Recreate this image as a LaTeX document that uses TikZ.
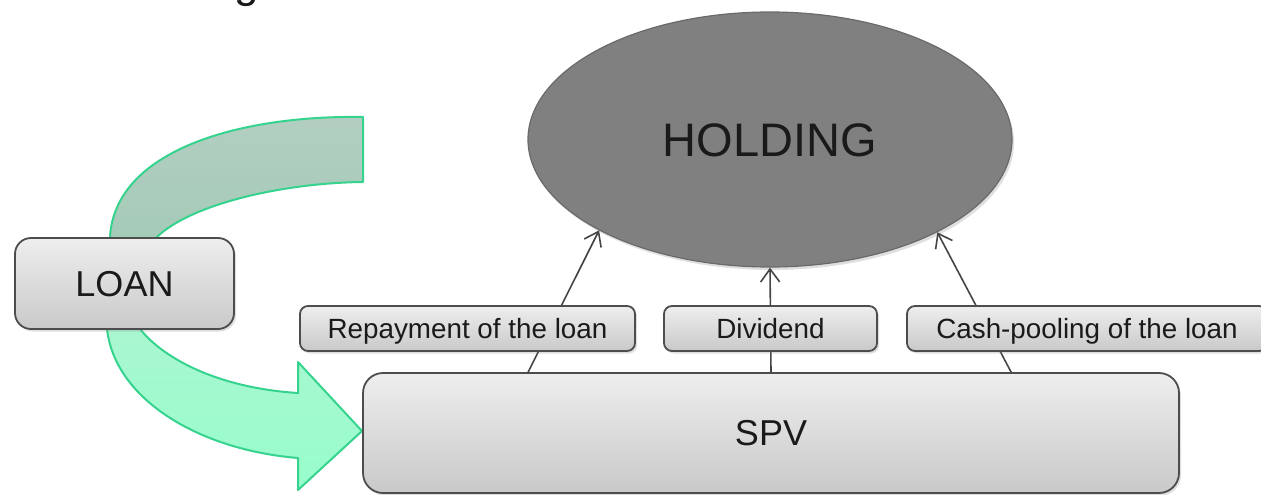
\documentclass[tikz,border=0pt]{standalone}
\usepackage{fontspec}
\setmainfont{Liberation Sans}
\usetikzlibrary{shapes.geometric,arrows.meta,shadows,calc}
\definecolor{txt}{HTML}{1A1A1A}
\definecolor{boxline}{HTML}{4D4D4D}
\definecolor{boxtop}{HTML}{EEEEEE}
\definecolor{boxbot}{HTML}{C9C9C9}
\definecolor{holdfill}{HTML}{808080}
\definecolor{holdline}{HTML}{6A6A6A}
\definecolor{connline}{HTML}{454545}
\definecolor{greenline}{HTML}{35D38E}
\definecolor{upgtop}{HTML}{B4CFC2}
\definecolor{upgbot}{HTML}{A0C9B5}
\definecolor{lowgtop}{HTML}{AEF5D3}
\definecolor{lowgbot}{HTML}{97FDCA}
\tikzset{
  greybox/.style={draw=boxline, line width=1.8pt, top color=boxtop, bottom color=boxbot,
    text=txt, inner sep=0pt, align=center,
    drop shadow={shadow xshift=2pt, shadow yshift=-2.5pt, opacity=0.25}},
  bigbox/.style={greybox, rounded corners=16pt, font=\fontsize{36}{40}\selectfont,
    text height=25.8pt, text depth=0pt},
  labelbox/.style={greybox, rounded corners=8pt, minimum height=45pt,
    font=\fontsize{27.8}{30}\selectfont, text height=19.9pt, text depth=0pt},
  holdstyle/.style={ellipse, draw=holdline, line width=1.2pt, fill=holdfill,
    minimum width=484pt, minimum height=255pt, inner sep=0pt,
    font=\fontsize{47}{50}\selectfont, text=txt, text height=33.7pt, text depth=0pt,
    drop shadow={shadow xshift=2pt, shadow yshift=-3pt, opacity=0.25}},
  conn/.style={draw=connline, line width=1.6pt, -{Straight Barb[length=13pt,width=19pt,line width=1.6pt]}}
}
\begin{document}
\begin{tikzpicture}[x=1pt,y=-1pt]
\useasboundingbox (0,0) rectangle (1261,495);
% fragment of a title cut off at the top edge
\node[font=\fontsize{44}{48}\selectfont, text=txt, inner sep=0pt, anchor=base] (title) at (247,-2) {g};
% green curved arrow
\begin{scope}
  \clip (363,117) .. controls (240,115) and (115,150) .. (110,237)
    -- (107,329) .. controls (115,400) and (200,450) .. (298,458)
    -- (298,490) -- (362,431) -- (298,362) -- (298,393)
    .. controls (220,388) and (165,360) .. (140,329)
    -- (157,237) .. controls (190,205) and (280,183) .. (363,182) -- cycle;
  \shade[top color=upgtop, bottom color=upgbot] (0,100) rectangle (400,283);
  \shade[top color=lowgtop, bottom color=lowgbot] (0,283) rectangle (400,495);
\end{scope}
\draw[greenline, line width=2pt, line join=round]
  (363,117) .. controls (240,115) and (115,150) .. (110,237)
    -- (107,329) .. controls (115,400) and (200,450) .. (298,458)
    -- (298,490) -- (362,431) -- (298,362) -- (298,393)
    .. controls (220,388) and (165,360) .. (140,329)
    -- (157,237) .. controls (190,205) and (280,183) .. (363,182) -- cycle;
% nodes
\node[bigbox, minimum width=219pt, minimum height=91pt] (loan) at (124.5,283.5) {LOAN};
\node[holdstyle] (hold) at (770,139.5) {HOLDING};
\node[bigbox, rounded corners=20pt, minimum width=816pt, minimum height=120pt] (spv) at (771,433) {SPV};
% connectors
\draw[conn] ($(spv.north west)+(166,0)$) -- (hold.208.3);
\draw[conn] (spv.north) -- (hold.south);
\draw[conn] ($(spv.north west)+(649,0)$) -- (hold.331.5);
% labels
\node[labelbox, minimum width=335pt] (repay) at (467.5,328.5) {Repayment of the loan};
\node[labelbox, minimum width=213pt] (divid) at (770.5,328.5) {Dividend};
\node[labelbox, minimum width=360pt] (cash) at (1087,328.5) {Cash-pooling of the loan};
\end{tikzpicture}
\end{document}
